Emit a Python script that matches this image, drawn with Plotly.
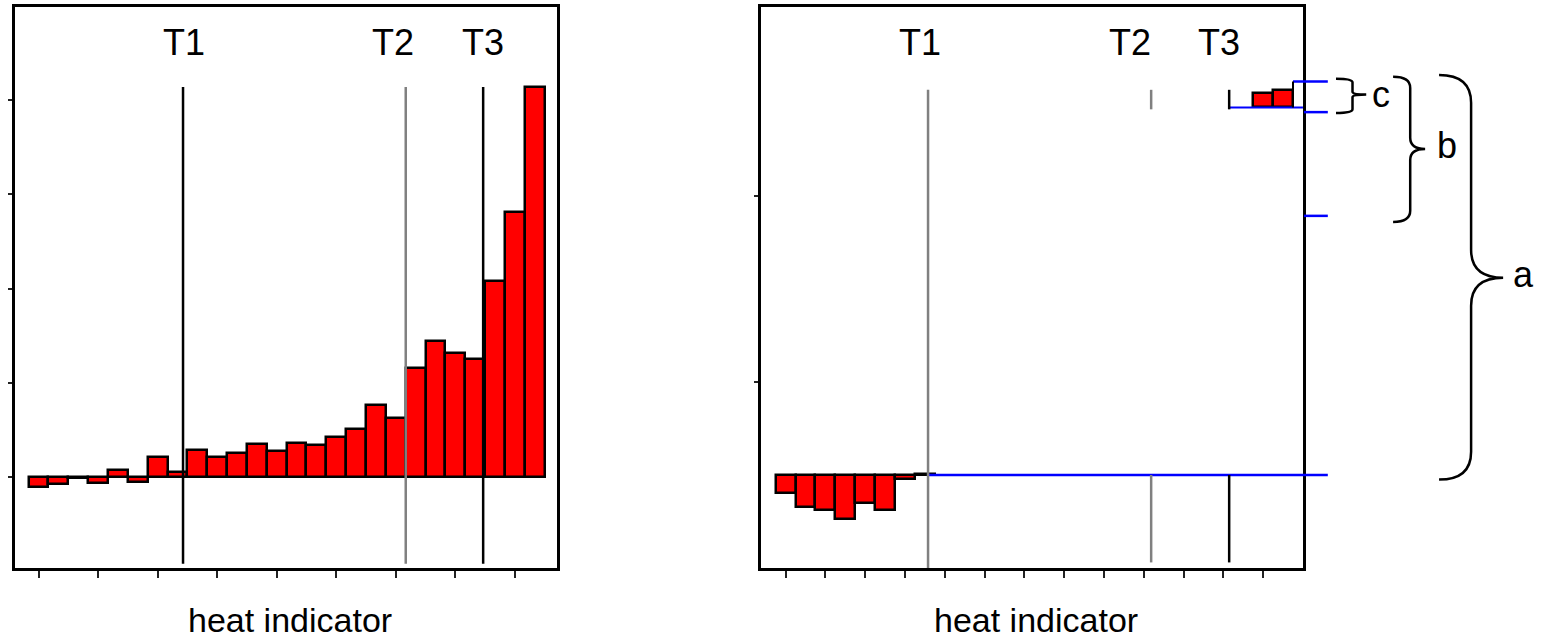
import plotly.graph_objects as go

# ---------------- data ----------------
left_pos = list(range(1, 27))
left_vals = [-0.11, -0.07, -0.01, -0.06, 0.07, -0.05, 0.21, 0.05, 0.29, 0.21,
             0.26, 0.35, 0.28, 0.36, 0.34, 0.43, 0.51, 0.76, 0.63, 1.16,
             1.44, 1.32, 1.25, 2.08, 2.81, 4.14]

right_low_pos = list(range(1, 9))
right_low_vals = [-0.19, -0.34, -0.38, -0.47, -0.30, -0.38, -0.04, 0.01]
right_up_pos = [25, 26]
right_up_vals = [0.16, 0.19]
right_up_base = 3.95

t_labels = ["T1", "T2", "T3"]
left_T = [8.28, 19.5, 23.4]
right_T = [8.16, 19.37, 23.29]
left_T_colors = ["black", "#808080", "black"]
right_T_colors = ["#808080", "#808080", "black"]

left_xticks = list(range(1, 27, 3))
right_xticks = list(range(1, 27, 2))
left_yticks = [0, 1, 2, 3, 4]
right_yticks = [1, 3]

# levels marked on the right panel (blue ticks)
level_top = 4.23
level_c = 3.90
level_b = 2.785
level_a = 0.0
brace_labels = ["a", "b", "c"]

x_title = "heat indicator"

FONT = "Liberation Sans, Arial, sans-serif"
W, H = 1550, 642

def px(x):
    return x / W

def py(y):
    return 1 - y / H

fig = go.Figure()

bar_style = dict(color="#ff0000", line=dict(color="black", width=2.5))

fig.add_trace(go.Bar(x=left_pos, y=left_vals, width=1, marker=bar_style,
                     xaxis="x", yaxis="y", showlegend=False, hoverinfo="skip"))
fig.add_trace(go.Bar(x=right_low_pos, y=right_low_vals, width=1, marker=bar_style,
                     xaxis="x2", yaxis="y2", showlegend=False, hoverinfo="skip"))
fig.add_trace(go.Bar(x=right_up_pos, y=right_up_vals, base=[right_up_base] * len(right_up_pos),
                     width=1, marker=bar_style,
                     xaxis="x2", yaxis="y2", showlegend=False, hoverinfo="skip"))

# blue level lines (on an extended x-axis sharing the scale of x2)
x_out0, x_out1 = 27.05, 28.25
blue = dict(color="#0000ff", width=2.5)
fig.add_trace(go.Scatter(x=[right_T[0], x_out1], y=[level_a, level_a], mode="lines",
                         line=blue, xaxis="x3", yaxis="y2", showlegend=False, hoverinfo="skip"))
fig.add_trace(go.Scatter(x=[right_T[2], 27.0], y=[right_up_base, right_up_base], mode="lines",
                         line=dict(color="#0000ff", width=2), xaxis="x3", yaxis="y2",
                         showlegend=False, hoverinfo="skip"))
fig.add_trace(go.Scatter(x=[x_out0, x_out1], y=[level_c, level_c], mode="lines",
                         line=blue, xaxis="x3", yaxis="y2", showlegend=False, hoverinfo="skip"))
fig.add_trace(go.Scatter(x=[x_out0, x_out1], y=[level_b, level_b], mode="lines",
                         line=blue, xaxis="x3", yaxis="y2", showlegend=False, hoverinfo="skip"))
fig.add_trace(go.Scatter(x=[26.5, x_out1], y=[level_top, level_top], mode="lines",
                         line=blue, xaxis="x3", yaxis="y2", showlegend=False, hoverinfo="skip"))
fig.add_trace(go.Scatter(x=[26.5, 26.5], y=[right_up_base, level_top], mode="lines",
                         line=dict(color="black", width=2), xaxis="x3", yaxis="y2",
                         showlegend=False, hoverinfo="skip"))

shapes = []
# threshold lines, left panel
for t, c in zip(left_T, left_T_colors):
    shapes.append(dict(type="line", xref="x", yref="y", x0=t, x1=t, y0=-0.92, y1=4.14,
                       line=dict(color=c, width=2.5)))
# threshold lines, right panel
shapes.append(dict(type="line", xref="x2", yref="y2", x0=right_T[0], x1=right_T[0],
                   y0=-1.05, y1=4.14, line=dict(color=right_T_colors[0], width=2.5)))
for t, c in zip(right_T[1:], right_T_colors[1:]):
    shapes.append(dict(type="line", xref="x2", yref="y2", x0=t, x1=t, y0=-0.94, y1=0,
                       line=dict(color=c, width=2.5)))
    shapes.append(dict(type="line", xref="x2", yref="y2", x0=t, x1=t, y0=3.93, y1=4.14,
                       line=dict(color=c, width=2.5)))

def brace(x0, x1, x2, yt, yb, ym, r1, r2):
    return (f"M {x0},{yt} Q {x1},{yt} {x1},{yt - r1} L {x1},{ym + r2} "
            f"Q {x1},{ym} {x2},{ym} Q {x1},{ym} {x1},{ym - r2} "
            f"L {x1},{yb + r1} Q {x1},{yb} {x0},{yb}")

shapes.append(dict(type="path", xref="x3", yref="y2",
                   path=brace(28.66, 29.49, 30.18, 4.26, 3.89, 4.09, 0.04, 0.03),
                   line=dict(color="black", width=2.5)))
shapes.append(dict(type="path", xref="x3", yref="y2",
                   path=brace(31.53, 32.39, 33.14, 4.28, 2.72, 3.505, 0.12, 0.12),
                   line=dict(color="black", width=2.5)))
shapes.append(dict(type="path", xref="x3", yref="y2",
                   path=brace(33.84, 35.45, 37.06, 4.30, -0.05, 2.12, 0.3, 0.3),
                   line=dict(color="black", width=2.5)))

annotations = []
for lab, t, dx in zip(t_labels, left_T, [0.05, -0.65, 0.0]):
    annotations.append(dict(text=lab, x=t + dx, y=4.61, xref="x", yref="y", showarrow=False,
                            font=dict(family=FONT, size=36, color="black")))
for lab, t, dx in zip(t_labels, right_T, [-0.4, -1.05, -0.5]):
    annotations.append(dict(text=lab, x=t + dx, y=4.65, xref="x2", yref="y2", showarrow=False,
                            font=dict(family=FONT, size=36, color="black")))
for lab, x, y in zip(brace_labels, [37.45, 33.65, 30.35], [2.16, 3.54, 4.09]):
    annotations.append(dict(text=lab, x=x, y=y, xref="x3", yref="y2", xanchor="left",
                            showarrow=False, font=dict(family=FONT, size=36, color="black")))
for xc in [290, 1036]:
    annotations.append(dict(text=x_title, x=px(xc), y=py(620), xref="paper", yref="paper",
                            xanchor="center", yanchor="middle",
                            showarrow=False, font=dict(family=FONT, size=34, color="black")))

ydom = [py(568), py(7)]
axis_common = dict(showline=True, linecolor="black", linewidth=2.5, mirror=True,
                   showgrid=False, zeroline=False, showticklabels=False,
                   ticks="outside", tickwidth=2, tickcolor="#222")

fig.update_layout(
    width=W, height=H,
    margin=dict(l=0, r=0, t=0, b=0),
    paper_bgcolor="white", plot_bgcolor="rgba(0,0,0,0)",
    barmode="overlay", bargap=0,
    showlegend=False,
    shapes=shapes, annotations=annotations,
    xaxis=dict(domain=[px(15), px(557)], range=[-0.185, 27.12], anchor="y",
               tickvals=left_xticks, ticklen=7, **axis_common),
    yaxis=dict(domain=ydom, range=[-0.966, 4.99], anchor="x",
               tickvals=left_yticks, ticklen=4, **axis_common),
    xaxis2=dict(domain=[px(761), px(1303)], range=[-0.234, 27.0], anchor="y2",
                tickvals=right_xticks, ticklen=7, **axis_common),
    yaxis2=dict(domain=ydom, range=[-1.0, 5.03], anchor="x2",
                tickvals=right_yticks, ticklen=4, **axis_common),
    xaxis3=dict(domain=[px(761), 1.0], range=[-0.234, 39.415], anchor="y2", visible=False,
                showgrid=False, zeroline=False),
)

fig.write_html("out.html", config={"displayModeBar": False},
               post_script="document.body.style.margin='0';")
